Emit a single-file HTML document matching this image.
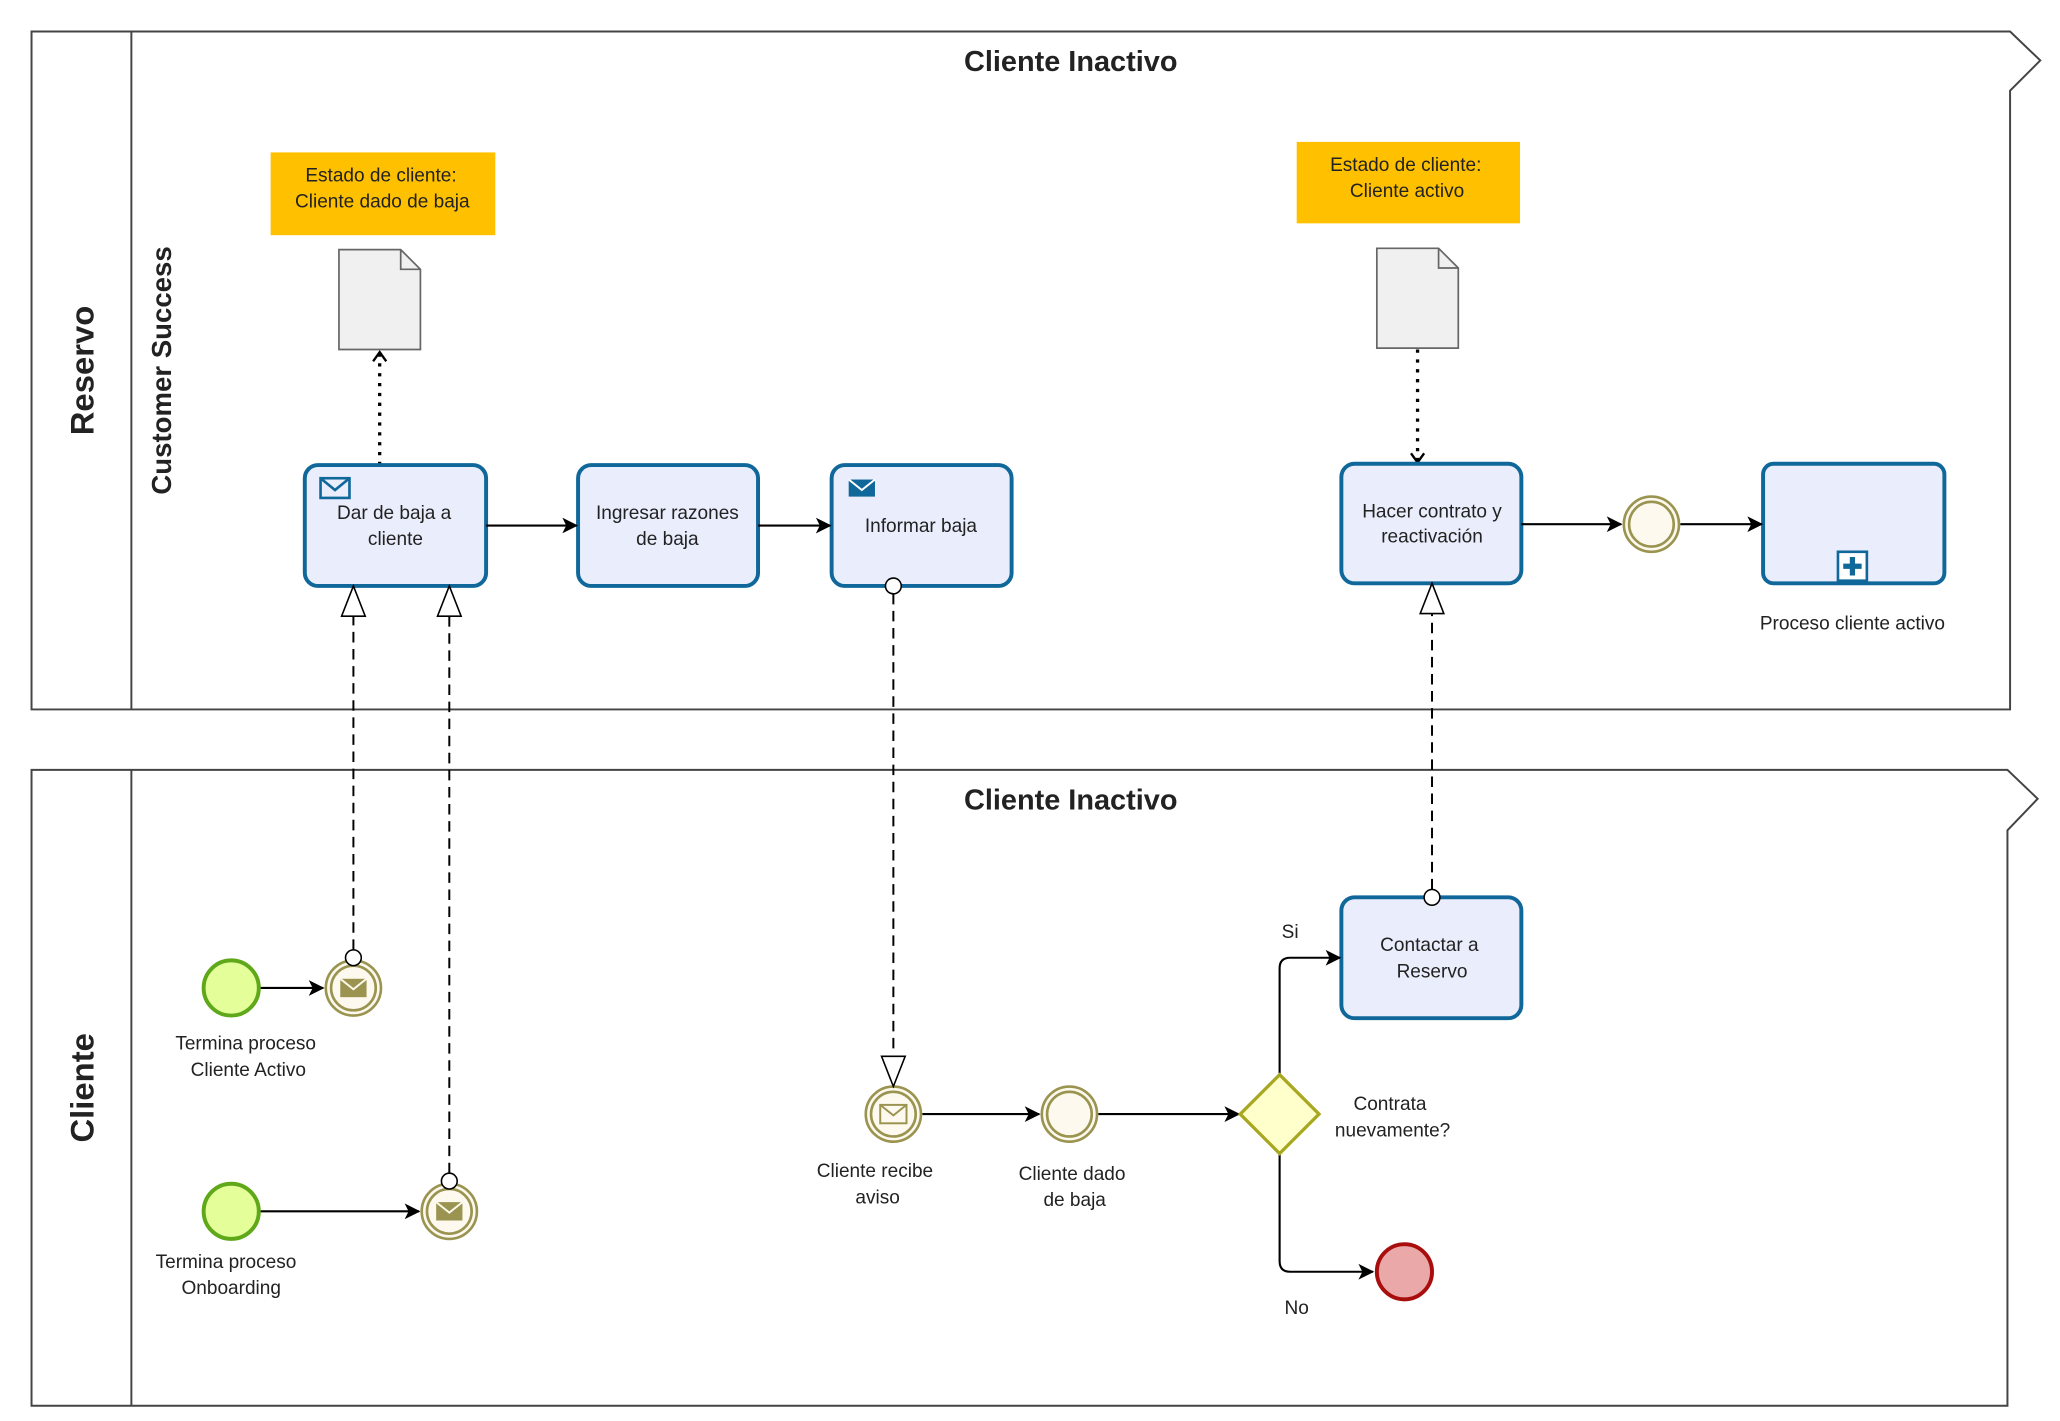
<!DOCTYPE html>
<html><head><meta charset="utf-8"><style>
html,body{margin:0;padding:0;background:#fff;}
svg{display:block;}
text{font-family:"Liberation Sans",sans-serif;fill:#222;}
.t{font-size:14.5px;text-anchor:middle;}
</style></head><body>
<svg width="2060" height="1421" viewBox="0 0 1568 1081.6" preserveAspectRatio="none" xmlns="http://www.w3.org/2000/svg">
<defs>
<marker id="a" markerWidth="12" markerHeight="12" refX="11" refY="6" orient="auto" markerUnits="userSpaceOnUse"><path d="M0,0 L12,6 L0,12 L3,6 Z" fill="#000"/></marker>
<marker id="o" markerWidth="12" markerHeight="10" refX="6" refY="1" orient="auto" markerUnits="userSpaceOnUse"><path d="M1,7 L6,1 L11,7" fill="none" stroke="#000" stroke-width="1.8"/></marker>
</defs>
<!-- Pools -->
<path d="M24,24 H1530 L1553,46 L1530,69 V540 H24 Z" fill="#fff" stroke="#444" stroke-width="1.5"/>
<line x1="100" y1="24" x2="100" y2="540" stroke="#444" stroke-width="1.5"/>
<path d="M24,586 H1528 L1551,608 L1528,632 V1070 H24 Z" fill="#fff" stroke="#444" stroke-width="1.5"/>
<line x1="100" y1="586" x2="100" y2="1070" stroke="#444" stroke-width="1.5"/>
<text transform="translate(71,282) rotate(-90)" text-anchor="middle" style="font-size:25px;font-weight:bold" fill="#000">Reservo</text>
<text transform="translate(130,282) rotate(-90)" text-anchor="middle" style="font-size:21px;font-weight:bold" fill="#000">Customer Success</text>
<text transform="translate(71,828) rotate(-90)" text-anchor="middle" style="font-size:25px;font-weight:bold" fill="#000">Cliente</text>
<text x="815" y="54" text-anchor="middle" style="font-size:22px;font-weight:bold" fill="#000">Cliente Inactivo</text>
<text x="815" y="616" text-anchor="middle" style="font-size:22px;font-weight:bold" fill="#000">Cliente Inactivo</text>

<!-- annotations -->
<rect x="206" y="116" width="171" height="63" fill="#ffc000"/>
<text class="t" x="290" y="138">Estado de cliente:</text>
<text class="t" x="291" y="158">Cliente dado de baja</text>
<rect x="987" y="108" width="170" height="62" fill="#ffc000"/>
<text class="t" x="1070" y="130">Estado de cliente:</text>
<text class="t" x="1071" y="150">Cliente activo</text>

<!-- docs -->
<path d="M258,190 H305 L320,205 V266 H258 Z" fill="#f0f0f0" stroke="#666" stroke-width="1.3"/>
<path d="M305,190 V205 H320" fill="none" stroke="#666" stroke-width="1.3"/>
<path d="M1048,189 H1095 L1110,204 V265 H1048 Z" fill="#f0f0f0" stroke="#666" stroke-width="1.3"/>
<path d="M1095,189 V204 H1110" fill="none" stroke="#666" stroke-width="1.3"/>
<line x1="289" y1="354" x2="289" y2="268" stroke="#000" stroke-width="2.5" stroke-dasharray="2.5,5"/>
<path d="M284,275 L289,268 L294,275" fill="none" stroke="#000" stroke-width="1.8"/>
<line x1="1079" y1="266" x2="1079" y2="352" stroke="#000" stroke-width="2.5" stroke-dasharray="2.5,5"/>
<path d="M1074,345 L1079,352 L1084,345" fill="none" stroke="#000" stroke-width="1.8"/>

<!-- tasks -->
<g fill="#eaeefc" stroke="#10679a" stroke-width="3">
<rect x="232" y="354" width="138" height="92" rx="10"/>
<rect x="440" y="354" width="137" height="92" rx="10"/>
<rect x="633" y="354" width="137" height="92" rx="10"/>
<rect x="1021" y="353" width="137" height="91" rx="10"/>
<rect x="1342" y="353" width="138" height="91" rx="8"/>
<rect x="1021" y="683" width="137" height="92" rx="10"/>
</g>
<rect x="244" y="364" width="22" height="15" fill="none" stroke="#10679a" stroke-width="2"/>
<path d="M244,364 L255,373 L266,364" fill="none" stroke="#10679a" stroke-width="2"/>
<rect x="646" y="365" width="20" height="13" fill="#10679a"/>
<path d="M646,365 L656,373 L666,365" fill="none" stroke="#fff" stroke-width="1.5"/>
<rect x="1399" y="420" width="22" height="22" fill="#fff" stroke="#10679a" stroke-width="2"/>
<path d="M1410,424 V438 M1403,431 H1417" stroke="#10679a" stroke-width="4"/>
<text class="t" x="300" y="395">Dar de baja a</text>
<text class="t" x="301" y="415">cliente</text>
<text class="t" x="508" y="395">Ingresar razones</text>
<text class="t" x="508" y="415">de baja</text>
<text class="t" x="701" y="405">Informar baja</text>
<text class="t" x="1090" y="394">Hacer contrato y</text>
<text class="t" x="1090" y="413">reactivación</text>
<text class="t" x="1410" y="479">Proceso cliente activo</text>
<text class="t" x="1088" y="724">Contactar a</text>
<text class="t" x="1090" y="744">Reservo</text>

<!-- sequence flows -->
<g stroke="#000" stroke-width="1.6" fill="none">
<line x1="370" y1="400" x2="439" y2="400" marker-end="url(#a)"/>
<line x1="577" y1="400" x2="632" y2="400" marker-end="url(#a)"/>
<line x1="1158" y1="399" x2="1234" y2="399" marker-end="url(#a)"/>
<line x1="1279" y1="399" x2="1341" y2="399" marker-end="url(#a)"/>
<line x1="198" y1="752" x2="246" y2="752" marker-end="url(#a)"/>
<line x1="198" y1="922" x2="319" y2="922" marker-end="url(#a)"/>
<line x1="702" y1="848" x2="791" y2="848" marker-end="url(#a)"/>
<line x1="836" y1="848" x2="943" y2="848" marker-end="url(#a)"/>
<path d="M974,818 V737 Q974,729 982,729 H1020" marker-end="url(#a)"/>
<path d="M974,878 V960 Q974,968 982,968 H1045" marker-end="url(#a)"/>
</g>

<!-- message flows -->
<g stroke="#000" stroke-width="1.5" fill="none" stroke-dasharray="8,5">
<line x1="269" y1="723" x2="269" y2="469"/>
<line x1="342" y1="893" x2="342" y2="469"/>
<line x1="680" y1="452" x2="680" y2="803"/>
<line x1="1090" y1="677" x2="1090" y2="467"/>
</g>

<!-- events -->
<g fill="#e4ff9a" stroke="#5fa81a" stroke-width="3">
<circle cx="176" cy="752" r="21"/>
<circle cx="176" cy="922" r="21"/>
</g>
<g fill="#fdf9ee" stroke="#9a9450" stroke-width="2">
<circle cx="1257" cy="399" r="21"/><circle cx="1257" cy="399" r="17"/>
<circle cx="814" cy="848" r="21"/><circle cx="814" cy="848" r="17"/>
<circle cx="269" cy="752" r="21"/><circle cx="269" cy="752" r="17"/>
<circle cx="342" cy="922" r="21"/><circle cx="342" cy="922" r="17"/>
<circle cx="680" cy="848" r="21"/><circle cx="680" cy="848" r="17"/>
</g>
<g>
<rect x="259" y="745" width="20" height="14" fill="#9a9450"/><path d="M259,745 L269,753 L279,745" fill="none" stroke="#fdf9ee" stroke-width="1.5"/>
<rect x="332" y="915" width="20" height="14" fill="#9a9450"/><path d="M332,915 L342,923 L352,915" fill="none" stroke="#fdf9ee" stroke-width="1.5"/>
<rect x="670" y="841" width="20" height="14" fill="none" stroke="#9a9450" stroke-width="1.5"/><path d="M670,841 L680,849 L690,841" fill="none" stroke="#9a9450" stroke-width="1.5"/>
</g>
<g fill="#fff" stroke="#000" stroke-width="1.2">
<path d="M269,446 L260,469 H278 Z"/>
<path d="M342,446 L333,469 H351 Z"/>
<path d="M1090,444 L1081,467 H1099 Z"/>
<path d="M680,827 L671,804 H689 Z"/>
<circle cx="269" cy="729" r="6"/>
<circle cx="342" cy="899" r="6"/>
<circle cx="680" cy="446" r="6"/>
<circle cx="1090" cy="683" r="6"/>
</g>
<path d="M974,818 L1004,848 L974,878 L944,848 Z" fill="#ffffcc" stroke="#a8a820" stroke-width="2.5"/>
<circle cx="1069" cy="968" r="21" fill="#eba8a8" stroke="#a80e0e" stroke-width="3"/>

<text class="t" x="187" y="799">Termina proceso</text>
<text class="t" x="189" y="819">Cliente Activo</text>
<text class="t" x="172" y="965">Termina proceso</text>
<text class="t" x="176" y="985">Onboarding</text>
<text class="t" x="666" y="896">Cliente recibe</text>
<text class="t" x="668" y="916">aviso</text>
<text class="t" x="816" y="898">Cliente dado</text>
<text class="t" x="818" y="918">de baja</text>
<text class="t" x="1058" y="845">Contrata</text>
<text class="t" x="1060" y="865">nuevamente?</text>
<text class="t" x="982" y="714">Si</text>
<text class="t" x="987" y="1000">No</text>
</svg>
</body></html>
